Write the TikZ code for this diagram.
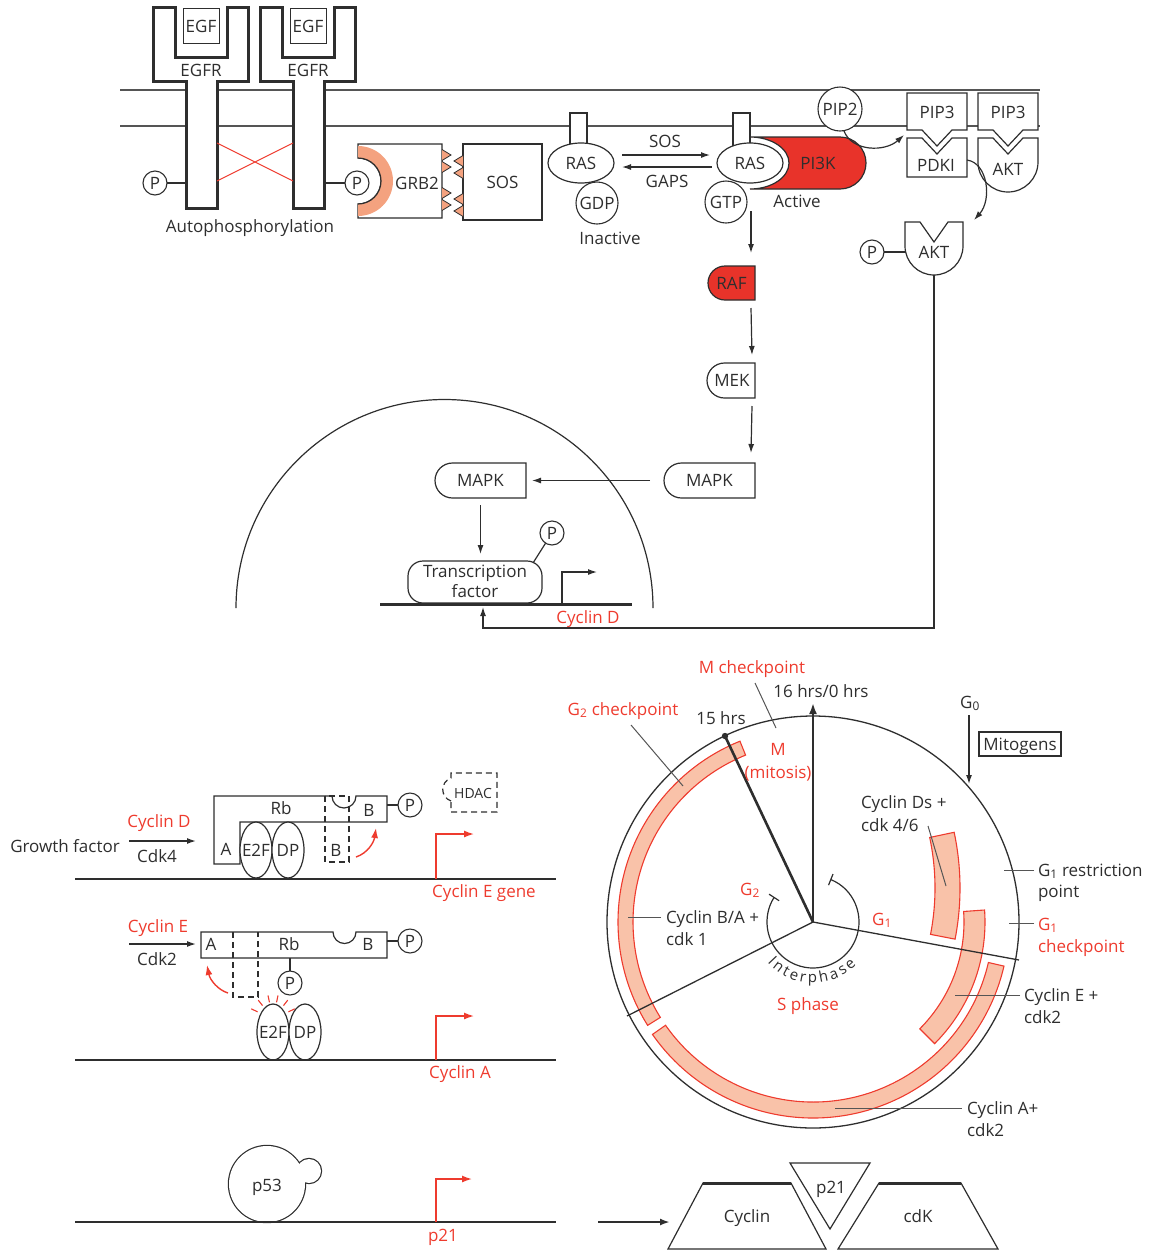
\documentclass[tikz,border=0pt]{standalone}
\usepackage{fontspec}
\setmainfont{Open Sans}
\usetikzlibrary{arrows.meta,shapes.geometric,calc}
\definecolor{ink}{HTML}{2E2E2E}
\definecolor{hot}{HTML}{EE3B2E}
\definecolor{pired}{HTML}{E8332A}
\definecolor{salmon}{HTML}{F9C2A9}
\definecolor{grbarc}{HTML}{F4A27F}
\definecolor{memb}{HTML}{555555}
\definecolor{lead}{HTML}{555555}
\newcommand{\fsz}{\fontsize{17}{20}\selectfont}
\newcommand{\fsm}{\fontsize{14}{16}\selectfont}
\newcommand{\fsi}{\fontsize{15}{17}\selectfont}
% box with a rounded left end: x1 y1 x2 y2 fill
\newcommand{\halfround}[5]{%
  \filldraw[fill=#5] (#3,#2) -- (#3,#4) -- ({#1+(#4-#2)/2},#4)
    arc[start angle=90, end angle=270, radius={(#4-#2)/2}] -- cycle;}
\begin{document}
\begin{tikzpicture}[x=1pt, y=-1pt, color=ink, line width=1.2pt, line join=miter,
  every node/.style={inner sep=0pt, outer sep=0pt, text=ink, font=\fsz, text height=12pt, text depth=0pt},
  hotlbl/.style={text=hot},
  pc/.style={circle, draw=ink, fill=white, line width=1.1pt, minimum size=24pt},
  arr/.style={-{Latex[length=9pt,width=6pt]}},
  redarr/.style={draw=hot, line width=1.4pt, -{Latex[length=10pt,width=7pt]}},
  leader/.style={draw=lead, line width=1pt},
  band/.style={fill=salmon, draw=hot, line width=1.1pt},
  dna/.style={line width=2pt},
  box/.style={draw=ink, fill=white, line width=1.2pt},
  dsh/.style={dash pattern=on 6pt off 4pt}
]
\useasboundingbox (0,0) rectangle (1153,1251);

% ---------------- membrane ----------------
\draw[memb, line width=1.3pt] (120,90) -- (1040,90);
\draw[memb, line width=1.3pt] (120,126) -- (1040,126);

% ---------------- EGF receptors ----------------
\foreach \dx/\n in {0/1,107/2}{
  \begin{scope}[xshift=\dx pt]
    \filldraw[fill=white, line width=3pt] (153,7) -- (175,7) -- (175,57) -- (227,57) -- (227,7) -- (248,7) -- (248,81) -- (217,81) -- (217,208) -- (186,208) -- (186,81) -- (153,81) -- cycle;
    \node[draw, line width=1pt, minimum width=36pt, minimum height=35pt] (egf\n) at (201,26) {EGF};
    \node (egfr\n) at (201,70) {EGFR};
  \end{scope}}
\coordinate (s1a) at (217,143); \coordinate (s1b) at (217,181);
\coordinate (s2a) at (293,143); \coordinate (s2b) at (293,181);
\draw[hot, line width=1pt] (s1a) -- (s2b) (s1b) -- (s2a);
\coordinate (stemL) at (186,183); \coordinate (stemR) at (323,183);
\node (autop) at (250,226) {Autophosphorylation};

% ---------------- GRB2 / SOS ----------------
\filldraw[fill=white] (358,144) -- (442,144) -- (442,218) -- (358,218) -- (358,204) arc[start angle=90, end angle=-90, radius=23] -- cycle;
\fill[grbarc] (358,146) arc[start angle=-90, end angle=90, radius=35] -- (358,204) arc[start angle=90, end angle=-90, radius=23] -- cycle;
\draw (358,204) arc[start angle=90, end angle=-90, radius=23];
\node (grb2) at (417,183) {GRB2};
\node[box, minimum width=79pt, minimum height=76pt] (sos) at (502.5,182) {SOS};
\foreach \y in {155,167,193,205}
  \filldraw[fill=grbarc, line width=0.8pt] (442,\y-5.5) -- (451,\y) -- (442,\y+5.5);
\foreach \y in {161,173,199,211}
  \filldraw[fill=grbarc, line width=0.8pt] (463,\y-5.5) -- (454,\y) -- (463,\y+5.5);
\node[pc] (pl) at (155,183) {P};
\node[pc] (pr) at (357,183) {P};
\draw (pl) -- (stemL);
\draw (pr) -- (stemR);

% ---------------- RAS (inactive / active) ----------------
\filldraw[fill=white] (570,113) rectangle (587,146);
\node[ellipse, box, minimum width=66pt, minimum height=40pt] (ras1) at (581,163) {RAS};
\node[pc, minimum size=42pt] (gdp) at (597,203) {GDP};
\node (inact) at (610,238) {Inactive};

\filldraw[fill=pired] (750,137) -- (840,137) arc[start angle=-90, end angle=90, radius=26] -- (750,189) arc[start angle=90, end angle=-90, x radius=39, y radius=26] -- cycle;
\filldraw[fill=white] (733,113) rectangle (750,146);
\node[ellipse, box, minimum width=66pt, minimum height=40pt] (ras2) at (750,163) {RAS};
\node (pi3k) at (818,163) {PI3K};
\node[pc, minimum size=42pt] (gtp) at (726,202) {GTP};
\node (act) at (797,201) {Active};

\draw[arr] ($(ras1.east)+(8,-8)$) -- ($(ras2.west)+(-7,-8)$);
\draw[arr] ($(ras2.west)+(-5,4)$) -- ($(ras1.east)+(8,4)$);
\node (soslbl) at (665,141) {SOS};
\node (gaps) at (667,181) {GAPS};

% ---------------- PIP2 / PIP3 / PDKI / AKT ----------------
\node[pc, minimum size=44pt] (pip2) at (840,109) {PIP2};
\filldraw[fill=white] (907,93) -- (967,93) -- (967,130) -- (952,130) -- (937,146) -- (922,130) -- (907,130) -- cycle;
\filldraw[fill=white] (978,93) -- (1038,93) -- (1038,130) -- (1023,130) -- (1008,146) -- (993,130) -- (978,130) -- cycle;
\filldraw[fill=white] (907,138) -- (922,138) -- (937,154) -- (952,138) -- (967,138) -- (967,177) -- (907,177) -- cycle;
\filldraw[fill=white] (978,138) -- (993,138) -- (1008,154) -- (1023,138) -- (1038,138) -- (1038,162) arc[start angle=0, end angle=180, radius=30] -- cycle;
\filldraw[fill=white] (905,222) -- (920,222) -- (934,242) -- (948,222) -- (963,222) -- (963,246) arc[start angle=0, end angle=180, radius=29] -- cycle;
\node (pip3a) at (937,112) {PIP3};
\node (pip3b) at (1008,112) {PIP3};
\node (pdki) at (936,165) {PDKI};
\node (akt1) at (1008,169) {AKT};
\node (akt2) at (934,252) {AKT};
\coordinate (pip3in) at (904,135);
\draw[arr] (pip2.-80) .. controls (852,152) and (885,152) .. (pip3in);
\coordinate (pdkiout) at (967,160);
\coordinate (akt2in) at (974,220);
\draw[arr] (pdkiout) .. controls (988,163) and (992,200) .. (akt2in);
\node[pc] (pakt) at (872,252) {P};
\coordinate (akt2w) at (905,252);
\draw (pakt) -- (akt2w);

% ---------------- RAF / MEK / MAPK ----------------
\halfround{708}{266}{755}{300}{pired}
\node[minimum width=47pt, minimum height=34pt] (raf) at (731.5,283) {RAF};
\halfround{707}{363}{755}{398}{white}
\node[minimum width=48pt, minimum height=35pt] (mek) at (732,380.5) {MEK};
\halfround{664}{463}{755}{498}{white}
\node[minimum width=91pt, minimum height=35pt] (mapk1) at (709.5,480.5) {MAPK};
\halfround{435}{463}{526}{498}{white}
\node[minimum width=91pt, minimum height=35pt] (mapk2) at (480.5,480.5) {MAPK};
\coordinate (gtpdown) at (751,211);
\draw[arr] (gtpdown) -- ($(raf.north east)+(-4,-13)$);
\draw[arr] ($(raf.south east)+(-4,8)$) -- ($(mek.north east)+(-4,-8)$);
\draw[arr] ($(mek.south east)+(-4,8)$) -- ($(mapk1.north east)+(-4,-10)$);
\draw[arr] ($(mapk1.west)+(-14,0)$) -- ($(mapk2.east)+(6,0)$);
\draw[arr] ($(mapk2.south)+(0,7)$) -- ++(0,49);

% ---------------- nucleus ----------------
\draw (236,608) arc[start angle=180, end angle=360, radius=208.5];
\node[box, rounded corners=15pt, minimum width=134pt, minimum height=42pt] (tf) at (475,582) {};
\node (tf1) at (475,571) {Transcription};
\node (tf2) at (475,591) {factor};
\node[pc] (ptf) at (552,533) {P};
\draw (ptf) -- ($(tf.north east)+(-9,2)$);
\coordinate (dnaL) at (380,604); \coordinate (dnaR) at (632,604);
\draw[line width=3pt] (dnaL) -- (dnaR);
\coordinate (prom1) at (562,604);
\draw[arr] (prom1) -- ++(0,-32) -- ++(35,0);
\node[hotlbl] (cycd1) at (588,617) {Cyclin D};
\coordinate (akt2b) at (934,275);
\coordinate (fbc) at (483,628);
\coordinate (fbtip) at (483,607);
\draw[arr] (akt2b) |- (fbc) -- (fbtip);

% ---------------- Rb row 1 (cyclin D) ----------------
\node[hotlbl] (cycDl) at (159,821) {Cyclin D};
\node (gf) at (65,846) {Growth factor};
\node (cdk4) at (157,856) {Cdk4};
\coordinate (gfa) at (129,841);
\draw[arr, line width=1.4pt] (gfa) -- ++(67,0);
\filldraw[fill=white] (214,796) -- (332,796) arc[start angle=180, end angle=0, radius=12] -- (387,796) -- (387,822) -- (240,822) -- (240,864) -- (214,864) -- cycle;
\draw[dsh] (325,796) rectangle (349,862);
\node (rb1) at (281,808) {Rb};
\node (b1) at (369,810) {B};
\node (a1) at (226,849) {A};
\node (bd1) at (336,850) {B};
\node[ellipse, box, minimum width=32pt, minimum height=56pt] (e2f1) at (256,850) {};
\node[ellipse, box, minimum width=32pt, minimum height=56pt] (dp1) at (288,850) {};
\node (e2f1t) at (256,850) {E2F};
\node (dp1t) at (288,850) {DP};
\coordinate (rb1e) at (387,805);
\node[pc] (prb1) at (410,805) {P};
\draw (rb1e) -- (prb1);
\draw[dsh] (451,801) .. controls (440,797) and (440,782) .. (451,778) -- (451,773) -- (497,773) -- (497,812) -- (451,812) -- cycle;
\node[font=\fsm, text height=10pt] (hdac) at (473,793) {HDAC};
\draw[redarr] (356,857) .. controls (368,853) and (374,842) .. (376,828);
\draw[dna] (75,879) -- (556,879);
\draw[redarr] (436,879) -- (436,834) -- (474,834);
\node[hotlbl] (cycEg) at (484,891) {Cyclin E gene};

% ---------------- Rb row 2 (cyclin E) ----------------
\node[hotlbl] (cycEl) at (158,926) {Cyclin E};
\node (cdk2l) at (157,959) {Cdk2};
\coordinate (cea) at (129,944);
\draw[arr, line width=1.4pt] (cea) -- ++(67,0);
\filldraw[fill=white] (201,932) -- (333,932) arc[start angle=180, end angle=0, radius=11.5] -- (387,932) -- (387,958) -- (201,958) -- cycle;
\draw[dsh] (233,932) -- (233,997) -- (258,997) -- (258,932);
\node (a2) at (211,944) {A};
\node (rb2) at (289,944) {Rb};
\node (b2) at (368,944) {B};
\coordinate (rb2s) at (290,958);
\node[pc] (prb2b) at (290,983) {P};
\draw (rb2s) -- (prb2b);
\coordinate (rb2e) at (387,941);
\node[pc] (prb2) at (410,941) {P};
\draw (rb2e) -- (prb2);
\draw[redarr] (228,993) .. controls (218,990) and (210,980) .. (207,965);
\coordinate (spk) at (273,1019);
\foreach \a in {155,128,102,78,52,25}
  \draw[hot, line width=1.1pt] ($(spk)+(-\a:17)$) -- ($(spk)+(-\a:24)$);
\node[ellipse, box, minimum width=32pt, minimum height=56pt] (e2f2) at (273,1032) {};
\node[ellipse, box, minimum width=32pt, minimum height=56pt] (dp2) at (305,1032) {};
\node (e2f2t) at (273,1032) {E2F};
\node (dp2t) at (305,1032) {DP};
\draw[dna] (75,1060) -- (556,1060);
\draw[redarr] (436,1060) -- (436,1016) -- (474,1016);
\node[hotlbl] (cycAg) at (460,1072) {Cyclin A};

% ---------------- p53 / p21 ----------------
\draw[line width=2.4pt] (267,1184) circle[radius=38] (309,1171) circle[radius=12];
\fill[white] (267,1184) circle[radius=38] (309,1171) circle[radius=12];
\node (p53) at (267,1185) {p53};
\draw[dna] (75,1222) -- (556,1222);
\draw[redarr] (436,1222) -- (436,1179) -- (472,1179);
\node[hotlbl] (p21g) at (443,1235) {p21};
\coordinate (inhS) at (598,1222); \coordinate (inhE) at (670,1222);
\draw[line width=2pt, -{Latex[length=10pt,width=7pt]}] (inhS) -- (inhE);
\filldraw[fill=white] (668,1249) -- (703,1183) -- (791,1183) -- (826,1249) -- cycle;
\draw[line width=3pt] (703,1183) -- (791,1183);
\filldraw[fill=white] (838,1249) -- (879,1183) -- (961,1183) -- (998,1249) -- cycle;
\draw[line width=3pt] (879,1183) -- (961,1183);
\filldraw[fill=white] (790,1163) -- (870,1163) -- (830,1229) -- cycle;
\node (cyc) at (747,1216) {Cyclin};
\node (cdk) at (918,1216) {cdK};
\node (p21) at (831,1187) {p21};

% ---------------- cell cycle ----------------
\coordinate (C) at (813,922);
\coordinate (D0) at (692,888);
\draw[line width=1.3pt] (C) circle[radius=206];
\filldraw[band] ($(C)+(-112:195)$) arc[start angle=-112, end angle=-212, radius=195] -- ($(C)+(-212:180)$) arc[start angle=-212, end angle=-112, radius=180] -- cycle;
\filldraw[band] ($(C)+(-215:196)$) arc[start angle=-215, end angle=-347, radius=196] -- ($(C)+(-347:180)$) arc[start angle=-347, end angle=-215, radius=180] -- cycle;
\filldraw[band] ($(C)+(-4:172)$) arc[start angle=-4, end angle=45, radius=172] -- ($(C)+(45:151)$) arc[start angle=45, end angle=-4, radius=151] -- cycle;
\filldraw[band] ($(D0)+(-12:268)$) arc[start angle=-12, end angle=11, radius=268] -- ($(D0)+(11:243)$) arc[start angle=11, end angle=-12, radius=243] -- cycle;

\coordinate (h0) at (813,703);
\coordinate (h15) at (725,736);
\coordinate (g1e) at (1019,960);
\coordinate (se) at (627,1016);
\draw[line width=1.3pt] (C) -- (g1e);
\draw[line width=1.3pt] (C) -- (se);
\draw[line width=2.6pt, -{Latex[length=11pt,width=8pt]}] (C) -- (h0);
\draw[line width=2.6pt] (C) -- (h15);
\fill (h15) circle[radius=3.2];
\draw[line width=1.2pt, {Bar[width=12pt]}-{Bar[width=12pt]}] ($(C)+(-68:46)$) arc[start angle=-68, end angle=213, radius=46];
% "Interphase" set letter by letter round the inner circle
\foreach \l/\a [count=\i] in {I/223.5, n/232.3, t/241.6, e/250.5, r/259.8, p/269.6, h/280.8, a/291.7, s/301.5, e/311.4}
  \node[anchor=base, font=\fsi, text height=, text depth=, rotate=\a+90] (ip\i) at ($(C)+(-\a:61)$) {\l};

\node[hotlbl] (mchk) at (752,667) {M checkpoint};
\draw[leader] ($(mchk.south)+(3,10)$) -- (776,728);
\node (t16) at (821,691) {16 hrs/0 hrs};
\node[hotlbl] (g2chk) at (623,709) {G\textsubscript{2} checkpoint};
\draw[leader] ($(g2chk.south)+(8,10)$) -- (683,786);
\node (t15) at (721,718) {15 hrs};
\node[hotlbl] (mlbl) at (778,749) {M};
\node[hotlbl] (mit) at (778,772) {(mitosis)};
\node (g0) at (970,702) {G\textsubscript{0}};
\coordinate (g0tip) at (969,784);
\draw[arr] ($(g0tip)+(0,-69)$) -- (g0tip);
\node[draw, line width=1.4pt, minimum width=82pt, minimum height=24pt] (mitog) at (1020,744) {Mitogens};

\node[anchor=west] (cds) at (861,802) {Cyclin Ds +};
\node[anchor=west] (cds2) at (861,825) {cdk 4/6};
\draw[leader] (928,826) -- (946,886);
\node[anchor=west] (g1r) at (1038,870) {G\textsubscript{1} restriction};
\node[anchor=west] (g1r2) at (1038,891) {point};
\draw[leader] ($(g1r.west)+(-4,0)$) -- ++(-30,0);
\node[anchor=west, hotlbl] (g1c) at (1038,924) {G\textsubscript{1}};
\node[anchor=west, hotlbl] (g1c2) at (1038,946) {checkpoint};
\draw[leader] ($(g1c.west)+(-4,-1)$) -- ++(-25,0);
\node[hotlbl] (g1in) at (882,919) {G\textsubscript{1}};
\node[hotlbl] (g2in) at (750,889) {G\textsubscript{2}};
\node[anchor=west] (cba) at (666,917) {Cyclin B/A +};
\node[anchor=west] (cba2) at (666,939) {cdk 1};
\draw[leader] ($(cba.west)+(-5,0)$) -- ++(-33,0);
\node[hotlbl] (sph) at (808,1004) {S phase};
\node[anchor=west] (cea1) at (1024,995) {Cyclin E +};
\node[anchor=west] (cea2) at (1024,1017) {cdk2};
\draw[leader] ($(cea1.west)+(-4,0)$) -- ++(-65,0);
\node[anchor=west] (caa1) at (967,1108) {Cyclin A+};
\node[anchor=west] (caa2) at (967,1130) {cdk2};
\draw[leader] ($(caa1.west)+(-5,0)$) -- ++(-127,0);
\end{tikzpicture}
\end{document}
